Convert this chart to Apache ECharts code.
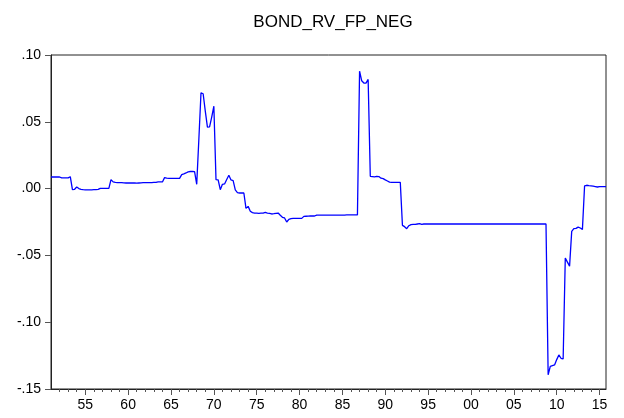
<!DOCTYPE html>
<html>
<head>
<meta charset="utf-8">
<script src="https://cdn.jsdelivr.net/npm/echarts@6/dist/echarts.min.js"></script>
<style>
  html, body { margin: 0; padding: 0; background: #fff; }
  #chart { width: 624px; height: 418px; }
</style>
</head>
<body>
<div id="chart"></div>
<script>
// quarterly series, 1951Q1 .. 2015Q4 (one row per year)
var startYear = 1951;
var seriesName = "BOND_RV_FP_NEG";
var values = [
  0.0087, 0.0087, 0.0087, 0.0087,   // 1951
  0.0087, 0.0080, 0.0080, 0.0080,
  0.0080, 0.0089, -0.0008, -0.0005,
  0.0012, 0.0000, -0.0005, -0.0008,
  -0.0010, -0.0010, -0.0010, -0.0009, // 1955
  -0.0008, -0.0008, -0.0006, 0.0002,
  0.0002, 0.0002, 0.0002, 0.0002,
  0.0067, 0.0050, 0.0046, 0.0045,
  0.0044, 0.0045, 0.0043, 0.0042,
  0.0042, 0.0042, 0.0043, 0.0042,   // 1960
  0.0041, 0.0042, 0.0043, 0.0044,
  0.0044, 0.0045, 0.0045, 0.0044,
  0.0046, 0.0047, 0.0050, 0.0051,
  0.0050, 0.0082, 0.0078, 0.0077,
  0.0076, 0.0077, 0.0076, 0.0076,   // 1965
  0.0077, 0.0105, 0.0110, 0.0117,
  0.0125, 0.0128, 0.0128, 0.0127,
  0.0032, 0.0370, 0.0717, 0.0710,
  0.0580, 0.0460, 0.0462, 0.0535,
  0.0617, 0.0067, 0.0065, -0.0008,  // 1970
  0.0032, 0.0035, 0.0068, 0.0100,
  0.0065, 0.0060, -0.0010, -0.0030,
  -0.0033, -0.0033, -0.0033, -0.0148,
  -0.0133, -0.0170, -0.0180, -0.0183,
  -0.0184, -0.0185, -0.0184, -0.0183, // 1975
  -0.0178, -0.0183, -0.0185, -0.0190,
  -0.0188, -0.0185, -0.0183, -0.0200,
  -0.0215, -0.0220, -0.0250, -0.0230,
  -0.0225, -0.0223, -0.0223, -0.0223,
  -0.0223, -0.0223, -0.0208, -0.0207, // 1980
  -0.0206, -0.0205, -0.0205, -0.0205,
  -0.0198, -0.0198, -0.0198, -0.0198,
  -0.0198, -0.0198, -0.0198, -0.0198,
  -0.0198, -0.0198, -0.0198, -0.0198,
  -0.0198, -0.0198, -0.0197, -0.0197, // 1985
  -0.0197, -0.0197, -0.0197, -0.0197,
  0.0879, 0.0807, 0.0790, 0.0790,
  0.0817, 0.0092, 0.0090, 0.0088,
  0.0092, 0.0090, 0.0078, 0.0075,
  0.0065, 0.0057, 0.0048, 0.0047,   // 1990
  0.0047, 0.0047, 0.0047, 0.0047,
  -0.0275, -0.0285, -0.0300, -0.0278,
  -0.0270, -0.0268, -0.0268, -0.0265,
  -0.0262, -0.0268, -0.0265, -0.0265,
  -0.0265, -0.0265, -0.0265, -0.0265, // 1995
  -0.0265, -0.0265, -0.0265, -0.0265,
  -0.0265, -0.0265, -0.0265, -0.0265,
  -0.0265, -0.0265, -0.0265, -0.0265,
  -0.0265, -0.0265, -0.0265, -0.0265,
  -0.0265, -0.0265, -0.0265, -0.0265, // 2000
  -0.0265, -0.0265, -0.0265, -0.0265,
  -0.0265, -0.0265, -0.0265, -0.0265,
  -0.0265, -0.0265, -0.0265, -0.0265,
  -0.0265, -0.0265, -0.0265, -0.0265,
  -0.0265, -0.0265, -0.0265, -0.0265, // 2005
  -0.0265, -0.0265, -0.0265, -0.0265,
  -0.0265, -0.0265, -0.0265, -0.0265,
  -0.0265, -0.0265, -0.0265, -0.0265,
  -0.1394, -0.1330, -0.1325, -0.1320,
  -0.1280, -0.1245, -0.1270, -0.1275, // 2010
  -0.0520, -0.0550, -0.0580, -0.0320,
  -0.0300, -0.0298, -0.0288, -0.0295,
  -0.0305, 0.0020, 0.0025, 0.0022,
  0.0020, 0.0018, 0.0015, 0.0012,
  0.0015, 0.0015, 0.0015, 0.0015    // 2015
];
var labelYears = [1955, 1960, 1965, 1970, 1975, 1980, 1985, 1990, 1995, 2000, 2005, 2010, 2015];
var yTicks = [-0.15, -0.10, -0.05, 0.00, 0.05, 0.10];

var minorYears = [];
for (var y = startYear + 1; y <= 2015; y++) minorYears.push(y);

var points = values.map(function (v, i) {
  return [startYear + i / 4, v];
});

var font = 'Arial, "Liberation Sans", sans-serif';
var xMax = startYear + (values.length - 1) / 4;

var myChart = echarts.init(document.getElementById("chart"), null, { renderer: "canvas" });
var option = {
  animation: false,
  backgroundColor: "#fff",
  title: {
    text: seriesName,
    left: 328,
    textAlign: "center",
    top: 9,
    textStyle: { fontFamily: font, fontSize: 17, fontWeight: "normal", color: "#000" },
  },
  grid: {
    left: 51,
    right: 18,
    top: 55,
    bottom: 29,
    show: true,
    borderColor: "#222",
    borderWidth: 1,
  },
  xAxis: [
    {
      type: "value",
      min: startYear,
      max: xMax,
      splitLine: { show: false },
      axisLine: { onZero: false, lineStyle: { color: "#222" } },
      axisTick: { customValues: labelYears, length: 6, lineStyle: { color: "#555" } },
      axisLabel: {
        customValues: labelYears,
        margin: 9,
        fontFamily: font,
        fontSize: 14,
        color: "#000",
        formatter: function (v) {
          var s = String(Math.round(v) % 100);
          return s.length < 2 ? "0" + s : s;
        },
      },
    },
    {
      type: "value",
      min: startYear,
      max: xMax,
      position: "bottom",
      splitLine: { show: false },
      axisLine: { show: false, onZero: false },
      axisTick: { customValues: minorYears, length: 3, lineStyle: { color: "#555" } },
      axisLabel: { show: false },
    },
  ],
  yAxis: {
    type: "value",
    min: -0.15,
    max: 0.1,
    splitLine: { show: false },
    axisLine: { show: true, onZero: false, lineStyle: { color: "#222" } },
    axisTick: { show: true, customValues: yTicks, length: 6, lineStyle: { color: "#555" } },
    axisLabel: {
      customValues: yTicks,
      margin: 10,
      fontFamily: font,
      fontSize: 14,
      color: "#000",
      formatter: function (v) {
        if (Math.abs(v) < 1e-9) return ".00";
        var s = Math.abs(v).toFixed(2).replace(/^0/, "");
        return (v < 0 ? "-" : "") + s;
      },
    },
  },
  series: [
    {
      name: seriesName,
      type: "line",
      data: points,
      showSymbol: false,
      lineStyle: { color: "#0000ff", width: 1.3 },
    },
  ],
};
myChart.setOption(option);
</script>
</body>
</html>
